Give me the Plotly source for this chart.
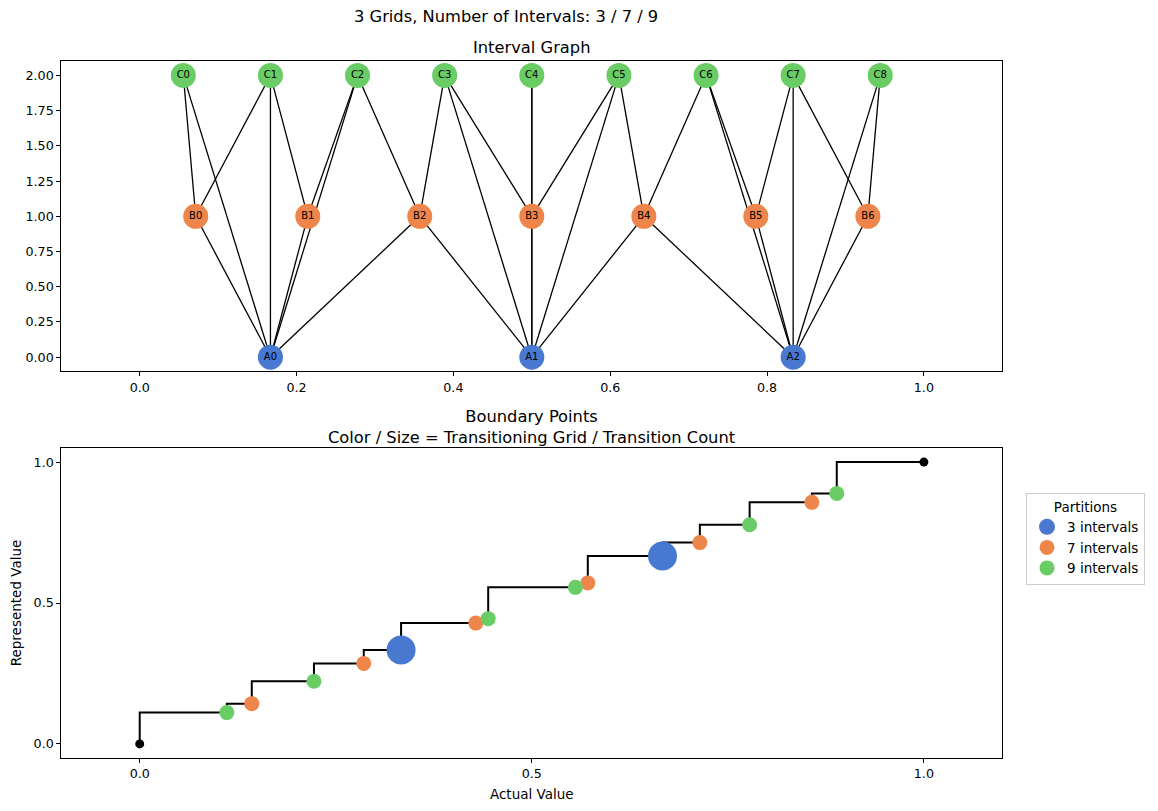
import plotly.graph_objects as go

# colours (seaborn "muted")
BLUE = "#4878d0"
ORANGE = "#ee854a"
GREEN = "#6acc64"
FONT = "DejaVu Sans"

# ---- interval graph data ----
a_names = ["A0", "A1", "A2"]
a_x = [0.1667, 0.5, 0.8333]
b_names = ["B0", "B1", "B2", "B3", "B4", "B5", "B6"]
b_x = [0.0714, 0.2143, 0.3571, 0.5, 0.6429, 0.7857, 0.9286]
c_names = ["C0", "C1", "C2", "C3", "C4", "C5", "C6", "C7", "C8"]
c_x = [0.0556, 0.1667, 0.2778, 0.3889, 0.5, 0.6111, 0.7222, 0.8333, 0.9444]
level_y = {"A": 0, "B": 1, "C": 2}

edges = [
    ("A0", "B0"), ("A0", "B1"), ("A0", "B2"), ("A0", "C0"), ("A0", "C1"), ("A0", "C2"),
    ("A1", "B2"), ("A1", "B3"), ("A1", "B4"), ("A1", "C3"), ("A1", "C4"), ("A1", "C5"),
    ("A2", "B4"), ("A2", "B5"), ("A2", "B6"), ("A2", "C6"), ("A2", "C7"), ("A2", "C8"),
    ("B0", "C0"), ("B0", "C1"),
    ("B1", "C1"), ("B1", "C2"),
    ("B2", "C2"), ("B2", "C3"),
    ("B3", "C3"), ("B3", "C4"), ("B3", "C5"),
    ("B4", "C5"), ("B4", "C6"),
    ("B5", "C6"), ("B5", "C7"),
    ("B6", "C7"), ("B6", "C8"),
]

# ---- boundary points data ----
step_actual = [0.0, 0.1111, 0.1429, 0.2222, 0.2857, 0.3333, 0.4286, 0.4444,
               0.5556, 0.5714, 0.6667, 0.7143, 0.7778, 0.8571, 0.8889, 1.0]
step_repr = [0.0, 0.1111, 0.1429, 0.2222, 0.2857, 0.3333, 0.4286, 0.4444,
             0.5556, 0.5714, 0.6667, 0.7143, 0.7778, 0.8571, 0.8889, 1.0]

grid3_x = [0.3333, 0.6667]
grid7_x = [0.1429, 0.2857, 0.4286, 0.5714, 0.7143, 0.8571]
grid9_x = [0.1111, 0.2222, 0.4444, 0.5556, 0.7778, 0.8889]
ends_x = [0.0, 1.0]

# page has an 8px body margin, so the figure is a bit smaller than the window
W, H, OFF = 1150, 803, 8


def px_x(p):
    return (p - OFF) / W


def px_y(p):
    return 1 - (p - OFF) / H


pos = {}
for names, xs in ((a_names, a_x), (b_names, b_x), (c_names, c_x)):
    for n, x in zip(names, xs):
        pos[n] = (x, level_y[n[0]])

ex, ey = [], []
for u, v in edges:
    ex += [pos[u][0], pos[v][0], None]
    ey += [pos[u][1], pos[v][1], None]

fig = go.Figure()

fig.add_trace(go.Scatter(x=ex, y=ey, mode="lines", line=dict(color="black", width=1.3),
                         showlegend=False, hoverinfo="skip", xaxis="x", yaxis="y"))

for names, xs, col in ((a_names, a_x, BLUE), (b_names, b_x, ORANGE), (c_names, c_x, GREEN)):
    fig.add_trace(go.Scatter(
        x=xs, y=[level_y[names[0][0]]] * len(xs), mode="markers+text",
        text=names, textposition="middle center",
        textfont=dict(family=FONT, size=10, color="black"),
        marker=dict(color=col, size=25, line=dict(width=0)),
        showlegend=False, xaxis="x", yaxis="y"))

# step line
fig.add_trace(go.Scatter(x=step_actual, y=step_repr, mode="lines", line_shape="vh",
                         line=dict(color="black", width=2), showlegend=False,
                         xaxis="x2", yaxis="y2"))
fig.add_trace(go.Scatter(x=ends_x, y=ends_x, mode="markers",
                         marker=dict(color="black", size=9, line=dict(width=0)),
                         showlegend=False, xaxis="x2", yaxis="y2"))
for xs, col, sz, name in ((grid3_x, BLUE, 29, "3 intervals"),
                          (grid7_x, ORANGE, 15, "7 intervals"),
                          (grid9_x, GREEN, 15, "9 intervals")):
    fig.add_trace(go.Scatter(x=xs, y=xs, mode="markers", name=name,
                             marker=dict(color=col, size=sz, line=dict(width=0)),
                             xaxis="x2", yaxis="y2"))

axis_common = dict(showline=True, linecolor="black", linewidth=1, mirror=True,
                   ticks="outside", ticklen=4, tickcolor="black", showgrid=False,
                   zeroline=False, tickfont=dict(family=FONT, size=12.7, color="black"))

x_dom = [px_x(61.3), px_x(1002.3)]

fig.update_layout(
    width=W, height=H,
    margin=dict(l=0, r=0, t=0, b=0),
    plot_bgcolor="white", paper_bgcolor="white",
    font=dict(family=FONT, color="black"),
    xaxis=dict(domain=x_dom, range=[-0.1, 1.1], dtick=0.2, tickformat=".1f",
               anchor="y", **axis_common),
    yaxis=dict(domain=[px_y(371.3), px_y(61.3)], range=[-0.1, 2.1], dtick=0.25,
               tickformat=".2f", anchor="x", **axis_common),
    xaxis2=dict(domain=x_dom, range=[-0.1, 1.1], dtick=0.5, tickformat=".1f",
                anchor="y2", title=dict(text="Actual Value", font=dict(size=13.5), standoff=9),
                **axis_common),
    yaxis2=dict(domain=[px_y(758), px_y(448)], range=[-0.05, 1.05], dtick=0.5,
                tickformat=".1f", anchor="x2",
                title=dict(text="Represented Value", font=dict(size=13.5), standoff=9),
                **axis_common),
    legend=dict(x=px_x(1026), y=px_y(493), xanchor="left", yanchor="top",
                bordercolor="#cccccc", borderwidth=1, itemsizing="trace",
                font=dict(family=FONT, size=13.5),
                title=dict(text="Partitions", side="top center", font=dict(size=13.5))),
    annotations=[
        dict(text="3 Grids, Number of Intervals: 3 / 7 / 9", x=px_x(506), y=px_y(16),
             xref="paper", yref="paper", xanchor="center", yanchor="middle",
             showarrow=False, font=dict(size=16.3)),
        dict(text="Interval Graph", x=px_x(531.5), y=px_y(47.5), xref="paper", yref="paper",
             xanchor="center", yanchor="middle", showarrow=False, font=dict(size=16.3)),
        dict(text="Boundary Points<br>Color / Size = Transitioning Grid / Transition Count",
             x=px_x(531.5), y=px_y(426.5), xref="paper", yref="paper",
             xanchor="center", yanchor="middle", showarrow=False, font=dict(size=16.3)),
    ],
)

fig.write_html("out.html")
